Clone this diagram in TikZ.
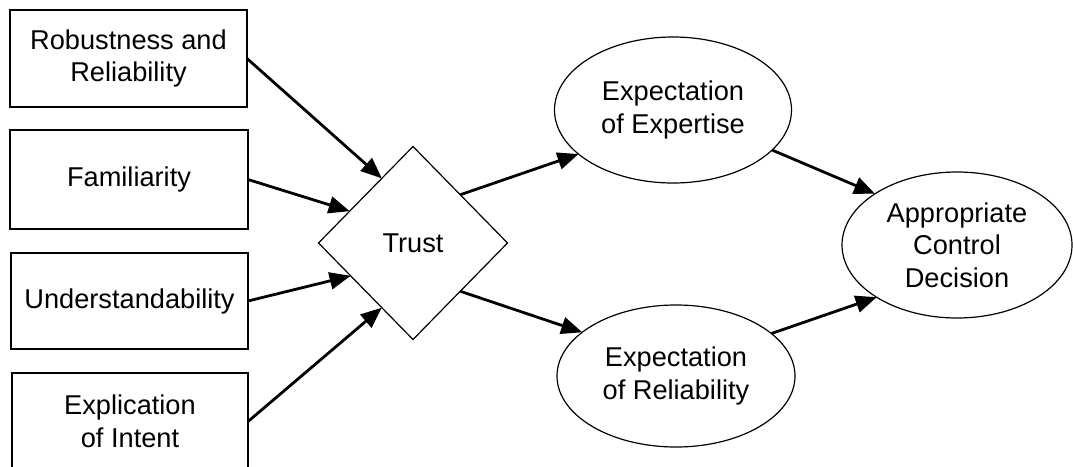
\documentclass[tikz,border=0pt]{standalone}
\usepackage{fontspec}
\setmainfont{Liberation Sans}
\usetikzlibrary{shapes.geometric,arrows.meta,calc}
\begin{document}
\begin{tikzpicture}[x=1pt,y=-1pt,
  every node/.style={font=\fontsize{27.2}{32.5}\selectfont, align=center, inner sep=0pt, outer sep=0pt},
  factor/.style={draw, line width=1.3pt, rectangle},
  oval/.style={draw, line width=1.2pt, ellipse},
  trustbox/.style={draw, line width=1.2pt, diamond},
  link/.style={line width=2.8pt, -{Triangle[length=21pt,width=17pt]}}
]
\useasboundingbox (0,0) rectangle (1073,466);
\node[factor, minimum width=237pt, minimum height=97pt] (b1) at (128.5,58.5) {Robustness and\\Reliability};
\node[factor, minimum width=238pt, minimum height=99pt] (b2) at (129,179.5) {Familiarity};
\node[factor, minimum width=237pt, minimum height=96pt] (b3) at (129.5,301) {Understandability};
\node[factor, minimum width=236pt, minimum height=97pt] (b4) at (130,421.5) {Explication\\of Intent};
\node[trustbox, minimum width=189pt, minimum height=193pt] (trust) at (413,243) {Trust};
\node[oval, minimum width=237pt, minimum height=146pt] (e1) at (673,110) {Expectation\\of Expertise};
\node[oval, minimum width=238pt, minimum height=142pt] (e2) at (676,376) {Expectation\\of Reliability};
\node[oval, minimum width=230pt, minimum height=146pt] (e3) at (957,245) {Appropriate\\Control\\Decision};
\coordinate (t1) at ($(trust.west)!0.67!(trust.north)$);
\coordinate (t2) at ($(trust.west)!0.33!(trust.north)$);
\coordinate (t3) at ($(trust.west)!0.34!(trust.south)$);
\coordinate (t4) at ($(trust.west)!0.67!(trust.south)$);
\draw[link] (b1.east) -- (t1);
\draw[link] (b2.east) -- (t2);
\draw[link] (b3.east) -- (t3);
\draw[link] (b4.east) -- (t4);
\draw[link] (trust.north east) -- (e1.205);
\draw[link] (trust.south east) -- (e2.155);
\draw[link] (e1.-22) -- (e3.148);
\draw[link] (e2.24) -- (e3.213);
\end{tikzpicture}
\end{document}
